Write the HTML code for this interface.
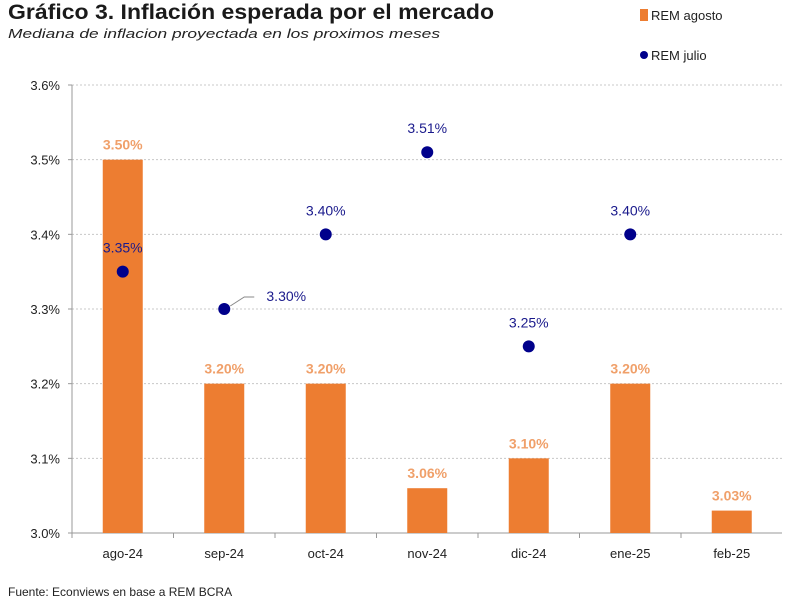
<!DOCTYPE html>
<html><head><meta charset="utf-8"><style>
body{margin:0;background:#fff;width:800px;height:608px;overflow:hidden;font-family:"Liberation Sans","DejaVu Sans",sans-serif}
svg text{font-family:"Liberation Sans","DejaVu Sans",sans-serif}
</style></head><body>
<svg id="c" width="800" height="608">
<text x="8" y="19" font-size="21" font-weight="bold" fill="#1a1a1a" textLength="486" lengthAdjust="spacingAndGlyphs">Gráfico 3. Inflación esperada por el mercado</text>
<text x="8" y="38" font-size="12.5" font-style="italic" fill="#222" textLength="432" lengthAdjust="spacingAndGlyphs">Mediana de inflacion proyectada en los proximos meses</text>
<rect x="640" y="9" width="8" height="12" fill="#ed7d31"/>
<text x="651" y="20" font-size="13" fill="#222">REM agosto</text>
<circle cx="644" cy="55" r="4" fill="#00008b"/>
<text x="651" y="60" font-size="13" fill="#222">REM julio</text>
<g id="plot"></g>
<text x="8" y="596" font-size="12" fill="#222">Fuente: Econviews en base a REM BCRA</text>
</svg>
<script>
const categories=["ago-24","sep-24","oct-24","nov-24","dic-24","ene-25","feb-25"];
const agosto=[3.50,3.20,3.20,3.06,3.10,3.20,3.03];
const julio=[3.35,3.30,3.40,3.51,3.25,3.40,null];
const yTicks=[3.0,3.1,3.2,3.3,3.4,3.5,3.6];
const x0=72,step=101.5,yBase=533,yTop=85,yMin=3.0,yMax=3.6;
const y=v=>yBase-(v-yMin)/(yMax-yMin)*(yBase-yTop);
const xc=i=>x0+step*(i+0.5);
const g=document.getElementById('plot');const NS="http://www.w3.org/2000/svg";
function mk(t,a,p){const e=document.createElementNS(NS,t);for(const k in a)e.setAttribute(k,a[k]);(p||g).appendChild(e);return e;}
yTicks.forEach(v=>{
 if(v>yMin){const l=mk('line',{x1:x0,x2:782,y1:y(v),y2:y(v),stroke:'#c8c8c8','stroke-dasharray':'2,2'});
 
 }
 const t=mk('text',{x:x0-12,y:y(v)+5,'font-size':13,'text-anchor':'end',fill:'#222'});t.textContent=v.toFixed(1)+'%';
 
 
 mk('line',{x1:x0-4,x2:x0,y1:y(v),y2:y(v),stroke:'#999'});
});
const ax=mk('line',{x1:x0,x2:x0,y1:yTop,y2:yBase,stroke:'#999'});


const xa=mk('line',{x1:x0,x2:782,y1:yBase,y2:yBase,stroke:'#999'});


categories.forEach((c,i)=>{
 mk('line',{x1:x0+step*i,x2:x0+step*i,y1:yBase,y2:yBase+5,stroke:'#999'});
 const t=mk('text',{x:xc(i),y:yBase+25,'font-size':13,'text-anchor':'middle',fill:'#222'});t.textContent=c;
 
 
 const b=mk('rect',{x:xc(i)-20,y:y(agosto[i]),width:40,height:yBase-y(agosto[i]),fill:'#ed7d31'});
 
 
 const bl=mk('text',{x:xc(i),y:y(agosto[i])-10,'font-size':14,'font-weight':'bold','text-anchor':'middle',fill:'#f0a06a'});bl.textContent=agosto[i].toFixed(2)+'%';
 
 
 if(julio[i]!=null){
  const p=mk('circle',{cx:xc(i),cy:y(julio[i]),r:6,fill:'#00008b'});
  
  
  let lx=xc(i),ly=y(julio[i])-19;
  if(i===1){lx=xc(i)+62;ly=y(julio[i])-8;mk('path',{d:`M${xc(i)+6} ${y(julio[i])-3} L${xc(i)+20} ${y(julio[i])-12} L${xc(i)+30} ${y(julio[i])-12}`,stroke:'#888',fill:'none'});}
  const pl=mk('text',{x:lx,y:ly,'font-size':14,'text-anchor':'middle',fill:'#1a1a8c'});pl.textContent=julio[i].toFixed(2)+'%';
  
  
 }
});
</script>
</body></html>
